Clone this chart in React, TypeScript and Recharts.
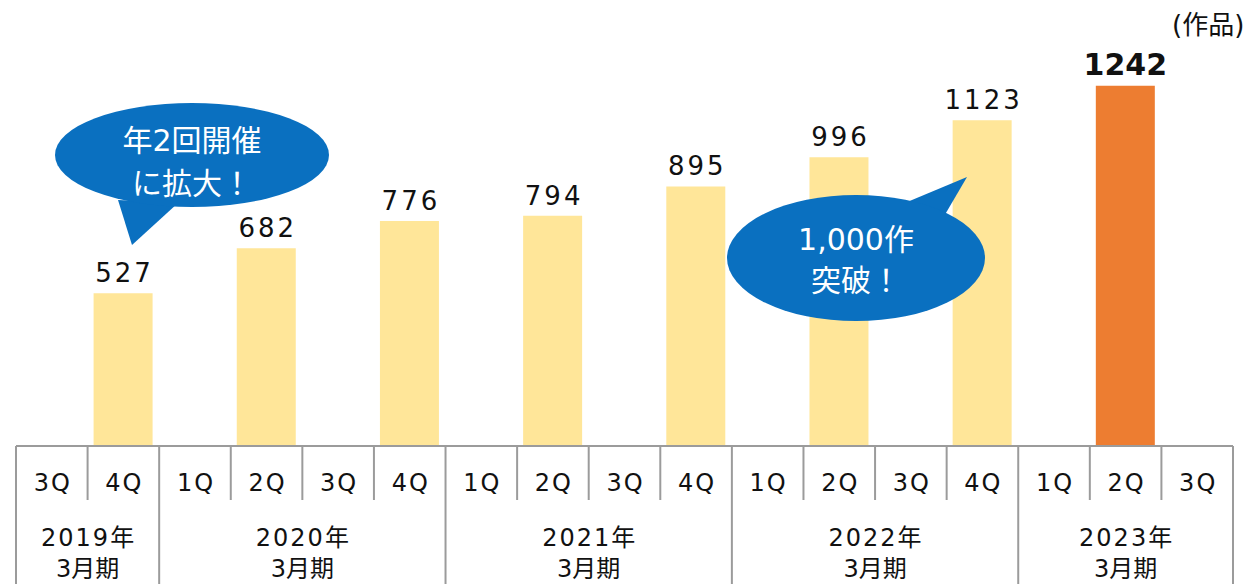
import { BarChart, Bar, XAxis, YAxis, Cell, LabelList } from 'recharts'

// quarters along the axis, grouped by fiscal year
const quarters = ['3Q', '4Q', '1Q', '2Q', '3Q', '4Q', '1Q', '2Q', '3Q', '4Q', '1Q', '2Q', '3Q', '4Q', '1Q', '2Q', '3Q']
const fiscalYears = ['2019年', '2020年', '2021年', '2022年', '2023年']
const quartersPerYear = [2, 4, 4, 4, 3]
// cumulative entries (作品)
const works: (number | null)[] = [null, 527, null, 682, null, 776, null, 794, null, 895, null, 996, null, 1123, null, 1242, null]
const highlightIndex = 15

const data = quarters.map((q, i) => ({ id: `c${i}`, quarter: q, works: works[i] }))

const W = 1248
const H = 584
const AXIS_H = 138
const MARGIN = { top: 11, right: 15, bottom: 0, left: 16 }
const BAND = (W - MARGIN.left - MARGIN.right) / quarters.length
const AXIS_Y = H - AXIS_H
const FONT = '"DejaVu Sans", "Noto Sans CJK JP", sans-serif'
const LINE = '#9b9b9b'

const groupStarts: number[] = []
quartersPerYear.reduce((acc, n) => {
  groupStarts.push(acc)
  return acc + n
}, 0)

function TableTick(props: any) {
  const { x, index } = props
  const left = x - BAND / 2
  const g = groupStarts.indexOf(index)
  const isStart = g >= 0
  const cx = isStart ? x + ((quartersPerYear[g] - 1) * BAND) / 2 : x
  return (
    <g>
      <line x1={left} x2={left} y1={AXIS_Y} y2={isStart ? H : AXIS_Y + 54} stroke={LINE} strokeWidth={2} />
      {index === quarters.length - 1 && (
        <line x1={x + BAND / 2} x2={x + BAND / 2} y1={AXIS_Y} y2={H} stroke={LINE} strokeWidth={2} />
      )}
      <text x={x + 1} y={AXIS_Y + 45} textAnchor="middle" fontSize={24} letterSpacing={2} fill="#111" fontFamily={FONT}>
        {quarters[index]}
      </text>
      {isStart && (
        <text textAnchor="middle" fontSize={24} fill="#111" fontFamily={FONT}>
          <tspan x={cx + 1} y={AXIS_Y + 100} letterSpacing={2}>{fiscalYears[g]}</tspan>
          <tspan x={cx} y={AXIS_Y + 131}>3月期</tspan>
        </text>
      )}
    </g>
  )
}

function ValueLabel(props: any) {
  const { x, y, width, value } = props
  if (value == null) return null
  const hi = value === works[highlightIndex]
  return (
    <text
      x={x + width / 2 + (hi ? 0 : 1.5)}
      y={y - 11}
      textAnchor="middle"
      fontSize={hi ? 30 : 26}
      fontWeight={hi ? 700 : 400}
      letterSpacing={hi ? 0 : 3}
      fill="#111"
      fontFamily={FONT}
    >
      {value}
    </text>
  )
}

export default function App() {
  return (
    <div style={{ position: 'absolute', left: 0, top: 0, width: W, height: H, background: '#fff' }}>
      <BarChart width={W} height={H} data={data} margin={MARGIN}>
        <XAxis
          dataKey="id"
          interval={0}
          height={AXIS_H}
          tickLine={false}
          axisLine={{ stroke: LINE, strokeWidth: 2 }}
          tick={<TableTick />}
        />
        <YAxis hide domain={[0, 1500]} />
        <Bar dataKey="works" barSize={59} isAnimationActive={false}>
          {data.map((d, i) => (
            <Cell key={d.id} fill={i === highlightIndex ? '#ED7D31' : '#FFE699'} />
          ))}
          <LabelList dataKey="works" content={<ValueLabel />} />
        </Bar>
      </BarChart>

      {/* annotations */}
      <svg width={W} height={H} style={{ position: 'absolute', left: 0, top: 0, pointerEvents: 'none' }}>
        <text x={1172} y={34} fontSize={26} fill="#111" fontFamily={FONT}>(作品)</text>

        <path d="M118,200 L132,245 L178,203 Z" fill="#0A70C0" />
        <ellipse cx={192} cy={155} rx={137} ry={52} fill="#0A70C0" />
        <text textAnchor="middle" fontSize={30} fill="#fff" fontFamily={FONT}>
          <tspan x={192} y={151}>年2回開催</tspan>
          <tspan x={192} y={194}>に拡大！</tspan>
        </text>

        <path d="M900,205 L967,177 L943,218 Z" fill="#0A70C0" />
        <ellipse cx={856} cy={258} rx={129} ry={63} fill="#0A70C0" />
        <text textAnchor="middle" fontSize={30} fill="#fff" fontFamily={FONT}>
          <tspan x={856} y={250}>1,000作</tspan>
          <tspan x={856} y={291}>突破！</tspan>
        </text>
      </svg>
    </div>
  )
}
